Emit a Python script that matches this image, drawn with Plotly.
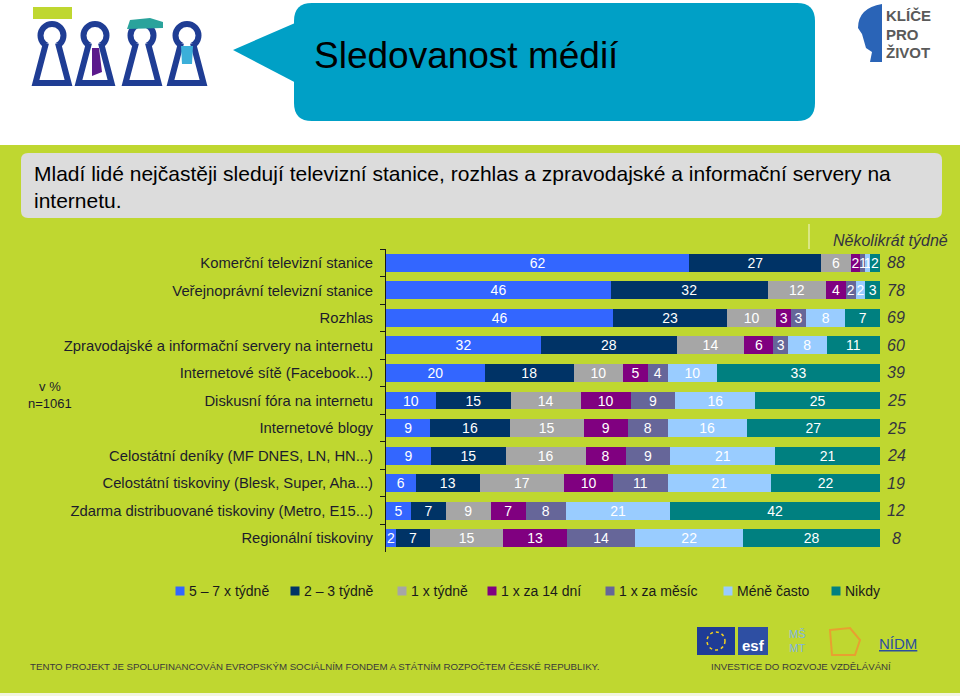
import plotly.graph_objects as go

# ---------------- data ----------------
categories = [
    "Komerční televizní stanice",
    "Veřejnoprávní televizní stanice",
    "Rozhlas",
    "Zpravodajské a informační servery na internetu",
    "Internetové sítě (Facebook...)",
    "Diskusní fóra na internetu",
    "Internetové blogy",
    "Celostátní deníky (MF DNES, LN, HN...)",
    "Celostátní tiskoviny (Blesk, Super, Aha...)",
    "Zdarma distribuované tiskoviny (Metro, E15...)",
    "Regionální tiskoviny",
]
series_names = ["5 – 7 x týdně", "2 – 3 týdně", "1 x týdně", "1 x za 14 dní",
                "1 x za měsíc", "Méně často", "Nikdy"]
s_5_7 = [62, 46, 46, 32, 20, 10, 9, 9, 6, 5, 2]
s_2_3 = [27, 32, 23, 28, 18, 15, 16, 15, 13, 7, 7]
s_1_tyden = [6, 12, 10, 14, 10, 14, 15, 16, 17, 9, 15]
s_14_dni = [2, 4, 3, 6, 5, 10, 9, 8, 10, 7, 13]
s_mesic = [1, 2, 3, 3, 4, 9, 8, 9, 11, 8, 14]
s_mene = [1, 2, 8, 8, 10, 16, 16, 21, 21, 21, 22]
s_nikdy = [2, 3, 7, 11, 33, 25, 27, 21, 22, 42, 28]
nekolikrat_tydne = [88, 78, 69, 60, 39, 25, 25, 24, 19, 12, 8]

series_values = [s_5_7, s_2_3, s_1_tyden, s_14_dni, s_mesic, s_mene, s_nikdy]
colors = ["#3366FF", "#003366", "#A6A6A6", "#800080", "#666699", "#99CCFF", "#008080"]

FONT = "Liberation Sans, Arial, sans-serif"
NARROW = "Liberation Sans Narrow, Liberation Sans, Arial Narrow, sans-serif"
GREEN = "#BFD730"

# plot area in pixels
L, R, T, B = 386, 880, 249, 552
W, H = 960, 696
# legend layout (pixel centres of the legend squares)
legend_x = [180, 295, 402, 492, 610, 728, 836]
legend_y = 591


def X(px):
    return (px - L) / (R - L)


def Y(py):
    return (B - py) / (B - T)


def P(x, y):
    return f"{X(x):.5f},{Y(y):.5f}"


def rrect(x0, y0, x1, y1, r):
    return (f"M{P(x0 + r, y0)} L{P(x1 - r, y0)} Q{P(x1, y0)} {P(x1, y0 + r)} "
            f"L{P(x1, y1 - r)} Q{P(x1, y1)} {P(x1 - r, y1)} L{P(x0 + r, y1)} "
            f"Q{P(x0, y1)} {P(x0, y1 - r)} L{P(x0, y0 + r)} Q{P(x0, y0)} {P(x0 + r, y0)} Z")


fig = go.Figure()
for name, vals, col in zip(series_names, series_values, colors):
    fig.add_trace(go.Bar(
        y=categories, x=vals, name=name, orientation="h",
        marker=dict(color=col, line=dict(width=0)),
        text=vals, texttemplate="%{text}", textposition="inside",
        insidetextanchor="middle", textangle=0, constraintext="none",
        textfont=dict(color="white", size=14, family=FONT),
        hoverinfo="skip", showlegend=False,
    ))

shapes = []
# white top band
shapes.append(dict(type="rect", xref="paper", yref="paper", x0=X(0), x1=X(W), y0=Y(0), y1=Y(145),
                   fillcolor="white", line=dict(width=0), layer="below"))
# thin light line at bottom
shapes.append(dict(type="rect", xref="paper", yref="paper", x0=X(0), x1=X(W), y0=Y(693), y1=Y(696),
                   fillcolor="#F2F5E0", line=dict(width=0), layer="below"))
# title bubble
bubble = "#00A0C6"
shapes.append(dict(type="path", xref="paper", yref="paper", path=rrect(294, 3, 815, 121, 18),
                   fillcolor=bubble, line=dict(width=0), layer="below"))
shapes.append(dict(type="path", xref="paper", yref="paper",
                   path=f"M{P(233, 50)} L{P(302, 20)} L{P(302, 86)} Z",
                   fillcolor=bubble, line=dict(width=0), layer="below"))
# subtitle box
shapes.append(dict(type="path", xref="paper", yref="paper", path=rrect(21, 153, 942, 218, 7),
                   fillcolor="#DCDCDC", line=dict(width=0), layer="below"))
# keyhole logos
kb = "#1F3D94"
for cx in [52, 95, 142, 187]:
    shapes.append(dict(type="circle", xref="paper", yref="paper",
                       x0=X(cx - 11.5), x1=X(cx + 11.5), y0=Y(24), y1=Y(47),
                       fillcolor="white", line=dict(color=kb, width=6)))
    shapes.append(dict(type="path", xref="paper", yref="paper",
                       path=f"M{P(cx - 6, 43)} L{P(cx - 16.5, 83)} L{P(cx + 16.5, 83)} L{P(cx + 6, 43)}",
                       fillcolor="white", line=dict(color=kb, width=6)))
shapes.append(dict(type="rect", xref="paper", yref="paper", x0=X(33), x1=X(72), y0=Y(7), y1=Y(19),
                   fillcolor=GREEN, line=dict(width=0)))
shapes.append(dict(type="path", xref="paper", yref="paper",
                   path=f"M{P(127, 29)} L{P(130, 20)} L{P(150, 18)} L{P(163, 22)} L{P(163, 28)} Z",
                   fillcolor="#2AA39C", line=dict(width=0)))
shapes.append(dict(type="path", xref="paper", yref="paper",
                   path=f"M{P(92, 48)} L{P(99, 48)} L{P(102, 72)} L{P(92, 76)} Z",
                   fillcolor="#5B1A8C", line=dict(width=0)))
shapes.append(dict(type="path", xref="paper", yref="paper",
                   path=f"M{P(181, 46)} L{P(193, 46)} L{P(192, 64)} L{P(182, 64)} Z",
                   fillcolor="#3BAFD9", line=dict(width=0)))
# KLÍČE PRO ŽIVOT head mark
shapes.append(dict(type="path", xref="paper", yref="paper",
                   path=(f"M{P(882, 4)} Q{P(858, 8)} {P(858, 28)} L{P(862, 34)} L{P(866, 48)} "
                         f"L{P(872, 52)} L{P(870, 62)} L{P(882, 62)} Z"),
                   fillcolor="#2A64B7", line=dict(width=0)))
# small vertical line above the header
shapes.append(dict(type="line", xref="paper", yref="paper", x0=X(809), x1=X(809), y0=Y(224), y1=Y(249),
                   line=dict(color="#F4F7D8", width=1)))
# footer logos
shapes.append(dict(type="rect", xref="paper", yref="paper", x0=X(697), x1=X(735), y0=Y(627), y1=Y(655),
                   fillcolor="#1F3C96", line=dict(width=0)))
shapes.append(dict(type="circle", xref="paper", yref="paper", x0=X(707), x1=X(725), y0=Y(632), y1=Y(650),
                   line=dict(color="#F4D21F", width=1.5, dash="dot")))
shapes.append(dict(type="rect", xref="paper", yref="paper", x0=X(738), x1=X(768), y0=Y(627), y1=Y(655),
                   fillcolor="#2E4FA3", line=dict(width=0)))
shapes.append(dict(type="path", xref="paper", yref="paper",
                   path=f"M{P(830, 630)} L{P(850, 628)} L{P(860, 640)} L{P(855, 655)} L{P(832, 655)} Z",
                   line=dict(color="#E8A030", width=2)))

annotations = []
# legend (squares + labels built from the series lists)
for name, col, lx in zip(series_names, colors, legend_x):
    shapes.append(dict(type="rect", xref="paper", yref="paper",
                       x0=X(lx - 4.5), x1=X(lx + 4.5), y0=Y(legend_y - 4.5), y1=Y(legend_y + 4.5),
                       fillcolor=col, line=dict(width=0)))
    annotations.append(dict(x=X(lx + 7), xref="paper", y=Y(legend_y), yref="paper", text=name,
                            showarrow=False, xanchor="left", yanchor="middle",
                            font=dict(size=14, color="#1a1a1a", family=FONT)))
# totals on the right
for cat, v in zip(categories, nekolikrat_tydne):
    annotations.append(dict(x=X(896), xref="paper", y=cat, yref="y", text=f"<i>{v}</i>",
                            showarrow=False, xanchor="center",
                            font=dict(size=16, color="#333340", family=FONT)))
annotations.append(dict(x=X(890), xref="paper", y=Y(241), yref="paper", text="<i>Několikrát týdně</i>",
                        showarrow=False, xanchor="center", yanchor="middle",
                        font=dict(size=16, color="#333340", family=FONT)))
annotations.append(dict(x=X(50), xref="paper", y=Y(395), yref="paper", text="v %<br>n=1061",
                        showarrow=False, xanchor="center", yanchor="middle", align="center",
                        font=dict(size=13, color="#1a1a2a", family=FONT)))
# title and subtitle
annotations.append(dict(x=X(312), xref="paper", y=Y(55), yref="paper", text="Sledovanost médií",
                        showarrow=False, xanchor="left", yanchor="middle",
                        font=dict(size=37, color="#000000", family=FONT)))
annotations.append(dict(x=X(32), xref="paper", y=Y(187), yref="paper",
                        text="Mladí lidé nejčastěji sledují televizní stanice, rozhlas a zpravodajské a informační servery na<br>internetu.",
                        showarrow=False, xanchor="left", yanchor="middle", align="left",
                        font=dict(size=21, color="#000000", family=FONT)))
# logo text
for txt, yy in [("KLÍČE", 15), ("PRO", 34), ("ŽIVOT", 53)]:
    annotations.append(dict(x=X(884), xref="paper", y=Y(yy), yref="paper", text=f"<b>{txt}</b>",
                            showarrow=False, xanchor="left", yanchor="middle",
                            font=dict(size=15, color="#5A5A5A", family=NARROW)))
# footer
annotations.append(dict(x=X(28), xref="paper", y=Y(666), yref="paper",
                        text="TENTO PROJEKT JE SPOLUFINANCOVÁN EVROPSKÝM SOCIÁLNÍM FONDEM A STÁTNÍM ROZPOČTEM ČESKÉ REPUBLIKY.",
                        showarrow=False, xanchor="left", yanchor="middle",
                        font=dict(size=9.7, color="#3A3A3A", family=NARROW)))
annotations.append(dict(x=X(801), xref="paper", y=Y(666), yref="paper",
                        text="INVESTICE DO ROZVOJE VZDĚLÁVÁNÍ",
                        showarrow=False, xanchor="center", yanchor="middle",
                        font=dict(size=9.7, color="#3A3A3A", family=NARROW)))
annotations.append(dict(x=X(753), xref="paper", y=Y(645), yref="paper", text="<b>esf</b>",
                        showarrow=False, xanchor="center", yanchor="middle",
                        font=dict(size=15, color="white", family=FONT)))
annotations.append(dict(x=X(797), xref="paper", y=Y(641), yref="paper", text="MŠ<br>MT",
                        showarrow=False, xanchor="center", yanchor="middle",
                        font=dict(size=11, color="#7FB4E0", family=FONT)))
annotations.append(dict(x=X(898), xref="paper", y=Y(643), yref="paper", text="<u>NÍDM</u>",
                        showarrow=False, xanchor="center", yanchor="middle",
                        font=dict(size=15, color="#2B4FA0", family=NARROW)))

fig.update_layout(
    width=W, height=H,
    barmode="stack", barnorm="percent", bargap=0.35,
    paper_bgcolor=GREEN, plot_bgcolor=GREEN,
    margin=dict(l=L, r=W - R, t=T, b=H - B, pad=0, autoexpand=False),
    font=dict(family=FONT, color="#1a1a1a"),
    uniformtext=dict(minsize=14, mode="show"),
    xaxis=dict(range=[0, 100], visible=False, fixedrange=True),
    yaxis=dict(categoryorder="array", categoryarray=categories, autorange="reversed",
               showline=True, linecolor="#1a1a1a", linewidth=1,
               ticks="outside", ticklen=5, tickcolor="#1a1a1a", tickson="boundaries",
               ticklabelstandoff=9, automargin=False,
               tickfont=dict(size=14.8, color="#1c1c2c", family=FONT),
               showgrid=False, zeroline=False, fixedrange=True),
    showlegend=False,
    shapes=shapes, annotations=annotations,
)

fig.write_html("out.html", config={"displayModeBar": False, "staticPlot": True},
               post_script="document.body.style.margin='0';")
